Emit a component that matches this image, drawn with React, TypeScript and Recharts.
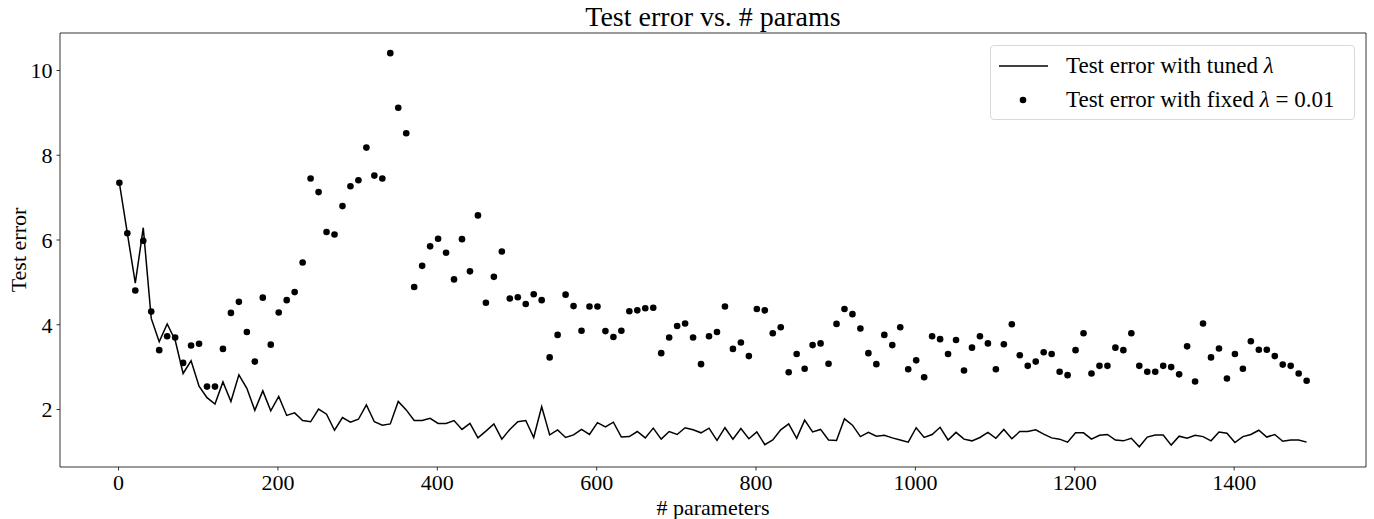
import { ComposedChart, Line, Scatter, XAxis, YAxis, ReferenceArea } from "recharts";

// number of parameters, one run every 10
const params = [
  1, 11, 21, 31, 41, 51, 61, 71, 81, 91, 101, 111, 121, 131, 141, 151, 161, 171, 181, 191,
  201, 211, 221, 231, 241, 251, 261, 271, 281, 291, 301, 311, 321, 331, 341, 351, 361, 371, 381, 391,
  401, 411, 421, 431, 441, 451, 461, 471, 481, 491, 501, 511, 521, 531, 541, 551, 561, 571, 581, 591,
  601, 611, 621, 631, 641, 651, 661, 671, 681, 691, 701, 711, 721, 731, 741, 751, 761, 771, 781, 791,
  801, 811, 821, 831, 841, 851, 861, 871, 881, 891, 901, 911, 921, 931, 941, 951, 961, 971, 981, 991,
  1001, 1011, 1021, 1031, 1041, 1051, 1061, 1071, 1081, 1091, 1101, 1111, 1121, 1131, 1141, 1151, 1161, 1171, 1181, 1191,
  1201, 1211, 1221, 1231, 1241, 1251, 1261, 1271, 1281, 1291, 1301, 1311, 1321, 1331, 1341, 1351, 1361, 1371, 1381, 1391,
  1401, 1411, 1421, 1431, 1441, 1451, 1461, 1471, 1481, 1491,
];

const tunedError = [
  7.35, 6.16, 4.98, 6.29, 4.15, 3.6, 4.02, 3.64, 2.85, 3.15,
  2.55, 2.28, 2.13, 2.65, 2.19, 2.82, 2.5, 1.98, 2.44, 1.97,
  2.31, 1.86, 1.92, 1.74, 1.71, 2.01, 1.89, 1.51, 1.81, 1.7,
  1.77, 2.11, 1.71, 1.63, 1.66, 2.19, 1.99, 1.74, 1.74, 1.79,
  1.67, 1.67, 1.74, 1.53, 1.67, 1.33, 1.49, 1.66, 1.3, 1.53,
  1.71, 1.74, 1.34, 2.07, 1.4, 1.52, 1.34, 1.4, 1.53, 1.41,
  1.69, 1.59, 1.7, 1.35, 1.36, 1.48, 1.33, 1.56, 1.3, 1.48,
  1.41, 1.57, 1.52, 1.45, 1.56, 1.27, 1.57, 1.3, 1.55, 1.31,
  1.47, 1.17, 1.28, 1.52, 1.66, 1.32, 1.75, 1.47, 1.53, 1.28,
  1.27, 1.78, 1.63, 1.36, 1.46, 1.37, 1.39, 1.33, 1.28, 1.23,
  1.57, 1.34, 1.41, 1.58, 1.28, 1.46, 1.3, 1.26, 1.34, 1.46,
  1.32, 1.53, 1.31, 1.48, 1.48, 1.52, 1.42, 1.33, 1.3, 1.23,
  1.45, 1.45, 1.3, 1.39, 1.41, 1.28, 1.26, 1.32, 1.12, 1.35,
  1.4, 1.4, 1.16, 1.37, 1.32, 1.39, 1.36, 1.26, 1.47, 1.44,
  1.22, 1.36, 1.41, 1.51, 1.35, 1.41, 1.25, 1.28, 1.28, 1.23,
];

const fixedError = [
  7.35, 6.16, 4.81, 5.98, 4.31, 3.4, 3.73, 3.7, 3.1, 3.51,
  3.55, 2.54, 2.54, 3.43, 4.28, 4.54, 3.83, 3.13, 4.64, 3.53,
  4.29, 4.58, 4.77, 5.47, 7.45, 7.13, 6.19, 6.13, 6.8, 7.27,
  7.41, 8.18, 7.52, 7.45, 10.41, 9.12, 8.52, 4.89, 5.39, 5.85,
  6.03, 5.7, 5.07, 6.02, 5.26, 6.58, 4.52, 5.13, 5.73, 4.62,
  4.65, 4.49, 4.72, 4.58, 3.23, 3.76, 4.71, 4.44, 3.86, 4.43,
  4.43, 3.85, 3.71, 3.86, 4.32, 4.34, 4.39, 4.4, 3.33, 3.7,
  3.97, 4.03, 3.7, 3.07, 3.73, 3.83, 4.43, 3.43, 3.58, 3.26,
  4.37, 4.34, 3.8, 3.94, 2.88, 3.31, 2.96, 3.52, 3.56, 3.08,
  4.02, 4.37, 4.25, 3.91, 3.33, 3.07, 3.76, 3.52, 3.94, 2.95,
  3.16, 2.76, 3.73, 3.66, 3.31, 3.64, 2.92, 3.46, 3.73, 3.56,
  2.95, 3.54, 4.01, 3.28, 3.03, 3.13, 3.35, 3.31, 2.89, 2.81,
  3.4, 3.8, 2.85, 3.03, 3.03, 3.46, 3.4, 3.8, 3.03, 2.89,
  2.89, 3.03, 3.0, 2.83, 3.49, 2.66, 4.03, 3.23, 3.44, 2.73,
  3.31, 2.96, 3.61, 3.41, 3.41, 3.26, 3.06, 3.03, 2.85, 2.68,
];

const xTicks = [0, 200, 400, 600, 800, 1000, 1200, 1400];
const yTicks = [2, 4, 6, 8, 10];

const data = params.map((x, i) => ({ x, tuned: tunedError[i], fixed: fixedError[i] }));

const xDomain: [number, number] = [-73.5, 1565.5];
const yDomain: [number, number] = [0.643, 10.885];

const font = "'Liberation Serif', 'DejaVu Serif', serif";

const LegendBox = () => (
  <div
    style={{
      position: "absolute",
      left: 990,
      top: 45,
      border: "1px solid #d9d9d9",
      borderRadius: 4,
      background: "rgba(255,255,255,0.8)",
      fontFamily: font,
      fontSize: 23,
      color: "#000",
      padding: "3px 0",
      boxSizing: "border-box",
      width: 365,
      height: 75,
    }}
  >
    <div style={{ display: "flex", alignItems: "center", height: 34 }}>
      <svg width={75} height={10}>
        <line x1={8} x2={57} y1={5} y2={5} stroke="#000" strokeWidth={1.5} />
      </svg>
      <span>
        Test error with tuned <i>λ</i>
      </span>
    </div>
    <div style={{ display: "flex", alignItems: "center", height: 34 }}>
      <svg width={75} height={10}>
        <circle cx={32} cy={5} r={3.3} fill="#000" />
      </svg>
      <span>
        Test error with fixed <i>λ</i> = 0.01
      </span>
    </div>
  </div>
);

export default function App() {
  return (
    <div style={{ position: "absolute", left: 0, top: 0, width: 1374, height: 519, fontFamily: font, background: "#fff" }}>
      <div
        style={{
          position: "absolute",
          top: 1,
          left: 713,
          transform: "translateX(-50%)",
          fontSize: 28,
          whiteSpace: "nowrap",
          color: "#000",
        }}
      >
        Test error vs. # params
      </div>
      <ComposedChart width={1374} height={519} data={data} margin={{ top: 33, right: 8, bottom: 0, left: 0 }}>
        <XAxis
          dataKey="x"
          type="number"
          domain={xDomain}
          ticks={xTicks}
          allowDataOverflow
          height={52}
          tickSize={3.5}
          tickMargin={4}
          axisLine={false}
          tickLine={{ stroke: "#000", strokeWidth: 0.8 }}
          tick={{ fontSize: 22, fill: "#000", fontFamily: font }}
          label={{ value: "# parameters", position: "center", dy: 14, fontSize: 22, fill: "#000", fontFamily: font }}
        />
        <YAxis
          type="number"
          domain={yDomain}
          ticks={yTicks}
          allowDataOverflow
          width={60}
          tickSize={3.5}
          tickMargin={4}
          axisLine={false}
          tickLine={{ stroke: "#000", strokeWidth: 0.8 }}
          tick={{ fontSize: 22, fill: "#000", fontFamily: font }}
          label={{ value: "Test error", angle: -90, position: "center", dx: -12, fontSize: 22, fill: "#000", fontFamily: font }}
        />
        <ReferenceArea
          x1={xDomain[0]}
          x2={xDomain[1]}
          y1={yDomain[0]}
          y2={yDomain[1]}
          fill="none"
          stroke="#000"
          strokeWidth={0.8}
          ifOverflow="visible"
        />
        <Line
          dataKey="tuned"
          stroke="#000"
          strokeWidth={1.5}
          dot={false}
          isAnimationActive={false}
          name="Test error with tuned λ"
        />
        <Scatter
          dataKey="fixed"
          fill="#000"
          shape={(p: any) => <circle cx={p.cx} cy={p.cy} r={3.3} fill="#000" />}
          isAnimationActive={false}
          name="Test error with fixed λ = 0.01"
        />
      </ComposedChart>
      <LegendBox />
    </div>
  );
}
